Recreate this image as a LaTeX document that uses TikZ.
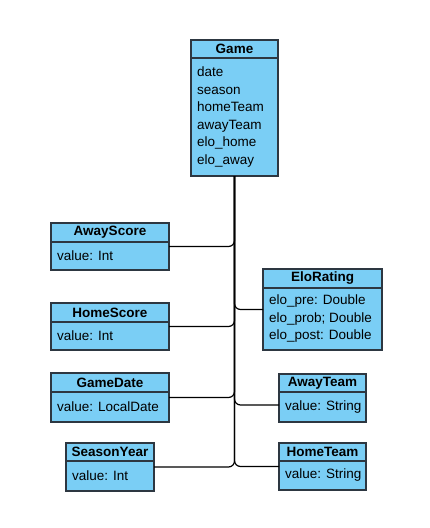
\documentclass[tikz,border=0pt]{standalone}
\usepackage{fontspec}
\setmainfont{Liberation Sans}
\usetikzlibrary{calc}
\definecolor{clsfill}{RGB}{122,206,245}
\definecolor{clsline}{RGB}{45,55,65}
\tikzset{
  clsfull/.style={draw=clsline,fill=clsfill,line width=1.2pt,inner sep=0pt,outer sep=0pt},
  clshdr/.style={draw=clsline,fill=clsfill,line width=1.2pt,inner sep=0pt,outer sep=0pt,font=\fontsize{13.5}{17.5}\selectfont\bfseries},
  clsbody/.style={inner xsep=6pt,inner ysep=0pt,align=left,font=\fontsize{13.5}{17.5}\selectfont},
  conn/.style={draw=black,line width=1.2pt,rounded corners=6pt}
}
\newcommand\clsbox[8]{%
  \node[clsfull, minimum width=#4pt, minimum height=#6pt, anchor=north west] (#1) at (#2,#3) {};
  \node[clshdr, minimum width=#4pt, minimum height=#5pt, anchor=north west] (#1h) at (#2,#3) {#7};
  \node[clsbody, anchor=west] (#1b) at ($(#1h.south west)!.5!(#1.south west)$) {#8};
}
\begin{document}
\begin{tikzpicture}[x=1pt,y=-1pt,font=\fontsize{13.5}{17.5}\selectfont]
\useasboundingbox[fill=white] (0,0) rectangle (429,528);
\clsbox{game}{191}{40}{87}{18}{136}{Game}{date\\season\\homeTeam\\awayTeam\\elo\_home\\elo\_away}
\clsbox{as}{51}{223}{118}{19}{47}{AwayScore}{value: Int}
\clsbox{hs}{51}{303}{118}{19}{47}{HomeScore}{value: Int}
\clsbox{gd}{51}{373}{118}{19}{49}{GameDate}{value: LocalDate}
\clsbox{sy}{66}{443}{88}{18}{48}{SeasonYear}{value: Int}
\clsbox{elo}{263}{269}{119}{19}{81}{EloRating}{elo\_pre: Double\\elo\_prob; Double\\elo\_post: Double}
\clsbox{at}{279}{374}{87}{18}{48}{AwayTeam}{value: String}
\clsbox{ht}{279}{443}{87}{18}{47}{HomeTeam}{value: String}
\coordinate (atin) at ($(at.west)+(0,7)$);
\draw[conn] (game.south) |- (as.east);
\draw[conn] (game.south) |- (hs.east);
\draw[conn] (game.south) |- (gd.east);
\draw[conn] (game.south) |- (sy.east);
\draw[conn] (game.south) |- (elo.west);
\draw[conn] (game.south) |- (atin);
\draw[conn] (game.south) |- (ht.west);
\end{tikzpicture}
\end{document}
